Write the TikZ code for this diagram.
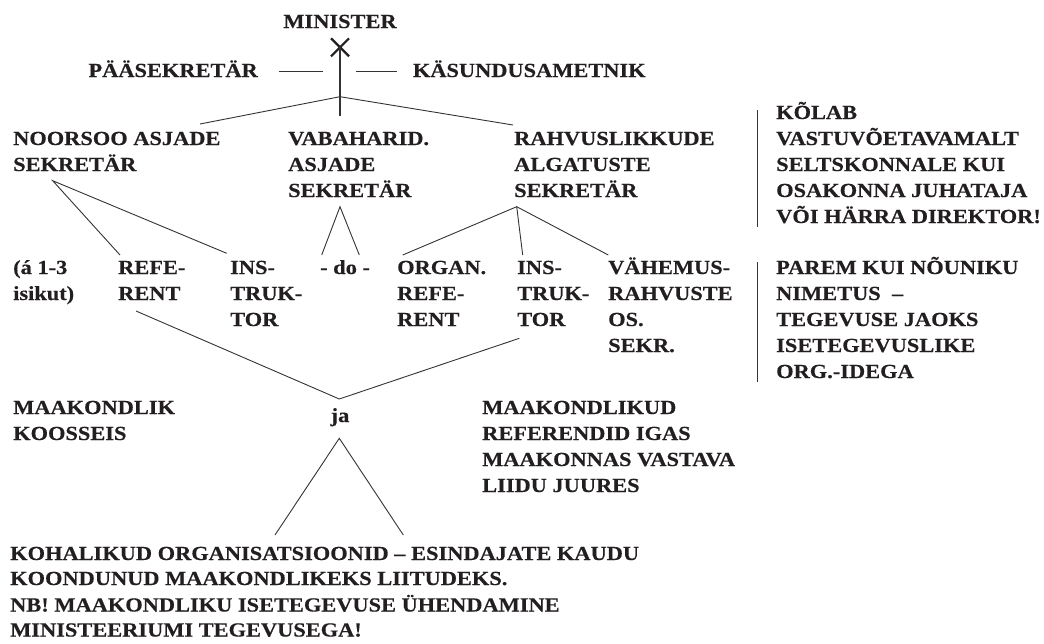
\documentclass[tikz,border=0pt]{standalone}
\usepackage{fontspec}
\usetikzlibrary{calc}
\setmainfont{Liberation Serif}
\newfontfamily\topfam[FakeStretch=1.12,FakeBold=0.4]{Liberation Serif}
\definecolor{ink}{HTML}{231F20}
\definecolor{wire}{HTML}{333333}
\newcommand\txtblock[5]{% style, name, x, first baseline, lines
  \foreach \l [count=\i from 0] in {#5} {\node[#1] (#2-\i) at (#3, #4+26*\i) {\l};}}
\begin{document}
\begin{tikzpicture}[x=1pt,y=-1pt,
  top/.style={anchor=base west,inner sep=0pt,text=ink,font=\topfam\bfseries\fontsize{20}{24}\selectfont},
  conn/.style={draw=wire,line width=0.9pt},
  vert/.style={draw=wire,line width=1.3pt}]
\useasboundingbox (0,0) rectangle (1044,643);
% header
\node[top,anchor=base] (min) at (340,28) {MINISTER};
\node[top,anchor=base east] (pk) at (258,77) {PÄÄSEKRETÄR};
\node[top] (ka) at (412.7,77) {KÄSUNDUSAMETNIK};
\coordinate (x) at (340,47.3);
\draw[draw=ink,line width=2.2pt] ($(x)+(-9,-9)$) -- ($(x)+(9,9)$) ($(x)+(9,-9)$) -- ($(x)+(-9,9)$);
\coordinate (vb) at (340,116);
\draw[vert] (x) -- (vb);
\coordinate (dl1) at (279,71); \coordinate (dl2) at (323,71);
\coordinate (dr1) at (356,71); \coordinate (dr2) at (397,71);
\draw[conn] (dl1) -- (dl2); \draw[conn] (dr1) -- (dr2);
\coordinate (a0) at (340,96.7);
\coordinate (e1) at (200,124); \coordinate (e3) at (513,125);
\draw[conn] (e1) -- (a0) -- (e3);
% secretaries
\txtblock{top}{noor}{13}{145}{NOORSOO ASJADE,SEKRETÄR}
\txtblock{top}{vaba}{288}{145}{VABAHARID.,ASJADE,SEKRETÄR}
\txtblock{top}{rahv}{514}{145}{RAHVUSLIKKUDE,ALGATUSTE,SEKRETÄR}
\txtblock{top}{kol}{776}{119}{KÕLAB,VASTUVÕETAVAMALT,SELTSKONNALE KUI,OSAKONNA JUHATAJA,VÕI HÄRRA DIREKTOR!}
\coordinate (bar1a) at (757,110); \coordinate (bar1b) at (757,227);
\draw[conn] (bar1a) -- (bar1b);
% middle row
\txtblock{top}{isik}{13}{274}{{(á 1-3},{isikut)}}
\txtblock{top}{ref}{118}{274}{REFE-,RENT}
\txtblock{top}{ins}{230}{274}{INS-,TRUK-,TOR}
\txtblock{top}{do}{320}{274}{- do -}
\txtblock{top}{org}{397}{274}{ORGAN.,REFE-,RENT}
\txtblock{top}{insb}{517}{274}{INS-,TRUK-,TOR}
\txtblock{top}{vah}{608}{274}{VÄHEMUS-,RAHVUSTE,OS.,SEKR.}
\txtblock{top}{par}{776}{274}{PAREM KUI NÕUNIKU,NIMETUS\ \ –,TEGEVUSE JAOKS,ISETEGEVUSLIKE,ORG.-IDEGA}
\coordinate (bar2a) at (757,262); \coordinate (bar2b) at (757,382);
\draw[conn] (bar2a) -- (bar2b);
% connectors secretaries -> staff
\coordinate (pn) at (52.7,180.7);
\coordinate (pn1) at (120,255); \coordinate (pn2) at (226.7,253.3);
\draw[conn] (pn1) -- (pn) -- (pn2);
\coordinate (pv) at (340,206.7);
\coordinate (pv1) at (321.7,255); \coordinate (pv2) at (359.3,255);
\draw[conn] (pv1) -- (pv) -- (pv2);
\coordinate (pr) at (516.7,206.7);
\coordinate (pr1) at (402.7,255); \coordinate (pr2) at (522.7,255); \coordinate (pr3) at (608.3,255);
\draw[conn] (pr1) -- (pr) -- (pr3);
\draw[conn] (pr) -- (pr2);
% to ja
\coordinate (jl) at (136,311); \coordinate (jr) at (519.3,338.3); \coordinate (jv) at (339.3,399);
\draw[conn] (jl) -- (jv) -- (jr);
\node[top,anchor=base] (ja) at (340,422) {ja};
\txtblock{top}{maak}{13}{414}{MAAKONDLIK,KOOSSEIS}
\txtblock{top}{maakd}{482}{414}{MAAKONDLIKUD,REFERENDID IGAS,MAAKONNAS VASTAVA,LIIDU JUURES}
\coordinate (ka0) at (339.3,438.3); \coordinate (ka1) at (275,535); \coordinate (ka2) at (403.3,535);
\draw[conn] (ka1) -- (ka0) -- (ka2);
% bottom
\node[top] (b1) at (10,560) {KOHALIKUD ORGANISATSIOONID – ESINDAJATE KAUDU};
\node[top] (b2) at (10,585) {KOONDUNUD MAAKONDLIKEKS LIITUDEKS.};
\node[top] (b3) at (10,611.5) {NB! MAAKONDLIKU ISETEGEVUSE ÜHENDAMINE};
\node[top] (b4) at (10,636.5) {MINISTEERIUMI TEGEVUSEGA!};
\end{tikzpicture}
\end{document}
